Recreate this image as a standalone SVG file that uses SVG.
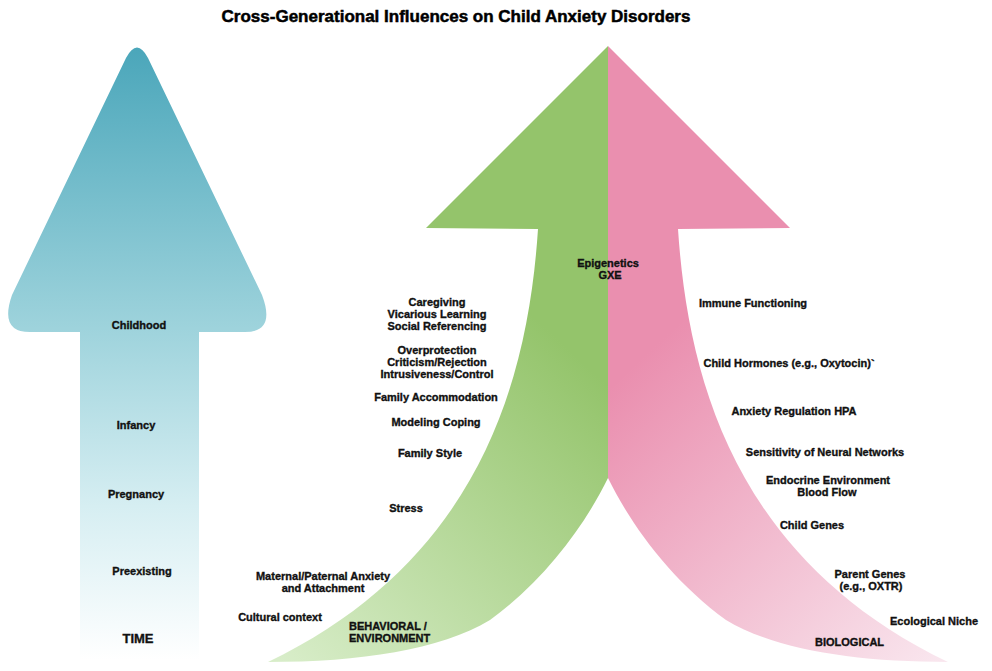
<svg xmlns="http://www.w3.org/2000/svg" width="992" height="671" viewBox="0 0 992 671">
  <defs>
    <linearGradient id="gTime" gradientUnits="userSpaceOnUse" x1="0" y1="46" x2="0" y2="660">
      <stop offset="0" stop-color="#4aa6ba"/>
      <stop offset="0.46" stop-color="#9ed3dc"/>
      <stop offset="0.75" stop-color="#d6eef2"/>
      <stop offset="1" stop-color="#ffffff"/>
    </linearGradient>
    <linearGradient id="gBehav" gradientUnits="userSpaceOnUse" x1="580" y1="360" x2="290" y2="670">
      <stop offset="0" stop-color="#94c46b"/>
      <stop offset="1" stop-color="#d8edc9"/>
    </linearGradient>
    <linearGradient id="gBio" gradientUnits="userSpaceOnUse" x1="640" y1="360" x2="930" y2="670">
      <stop offset="0" stop-color="#ea8faf"/>
      <stop offset="1" stop-color="#f9e6ee"/>
    </linearGradient>
  </defs>
  <style>
    text { font-family: "Liberation Sans", Arial, sans-serif; font-weight: bold; font-size: 11px; fill: #111; stroke: #111; stroke-width: 0.35; text-anchor: middle; }
    .title { font-size: 17px; fill: #000; stroke: #000; stroke-width: 0.5; }
    .big { font-size: 13px; }
    .start { text-anchor: start; }
  </style>

  <rect width="992" height="671" fill="#ffffff"/>

  <text class="title" x="456" y="22">Cross-Generational Influences on Child Anxiety Disorders</text>

  <!-- Time arrow -->
  <g id="time-arrow">
    <path d="M126,58 Q137,37 148,58 L262,295 Q276,332 245,332 L199,332 L199,662 L80,662 L80,332 L30,332 Q-1,332 12,295 Z" fill="url(#gTime)"/>
    <text x="139" y="329">Childhood</text>
    <text x="136" y="429">Infancy</text>
    <text x="136" y="498">Pregnancy</text>
    <text x="142" y="575">Preexisting</text>
    <text class="big" x="138" y="643">TIME</text>
  </g>

  <!-- Behavioral / environment half of the split arrow -->
  <g id="behavioral-arrow">
    <path d="M608,46 L608,478 C585,525 545,580 490,620 C440,650 360,662 268,662 C480,560 528,380 538,229 L426,228 Z" fill="url(#gBehav)"/>
    <text class="start" x="349" y="630">BEHAVIORAL /</text>
    <text class="start" x="349" y="642">ENVIRONMENT</text>
  </g>

  <!-- Biological half of the split arrow -->
  <g id="biological-arrow">
    <path d="M608,46 L608,478 C631,525 671,580 726,620 C776,650 856,662 948,662 C736,560 688,380 678,229 L790,228 Z" fill="url(#gBio)"/>
    <text class="start" x="815" y="646">BIOLOGICAL</text>
  </g>

  <g id="epigenetics">
    <text x="608" y="267">Epigenetics</text>
    <text x="610" y="279">GXE</text>
  </g>

  <!-- Behavioral / environmental influences -->
  <g id="behavioral-labels">
    <text x="437" y="306">Caregiving</text>
    <text x="437" y="318">Vicarious Learning</text>
    <text x="437" y="330">Social Referencing</text>
    <text x="437" y="354">Overprotection</text>
    <text x="437" y="366">Criticism/Rejection</text>
    <text x="437" y="378">Intrusiveness/Control</text>
    <text x="436" y="401">Family Accommodation</text>
    <text x="436" y="426">Modeling Coping</text>
    <text x="430" y="457">Family Style</text>
    <text x="406" y="512">Stress</text>
    <text x="323" y="580">Maternal/Paternal Anxiety</text>
    <text x="323" y="592">and Attachment</text>
    <text x="280" y="621">Cultural context</text>
  </g>

  <!-- Biological influences -->
  <g id="biological-labels">
    <text x="753" y="307">Immune Functioning</text>
    <text x="789" y="367">Child Hormones (e.g., Oxytocin)`</text>
    <text x="794" y="415">Anxiety Regulation HPA</text>
    <text x="825" y="456">Sensitivity of Neural Networks</text>
    <text x="828" y="484">Endocrine Environment</text>
    <text x="827" y="496">Blood Flow</text>
    <text x="812" y="529">Child Genes</text>
    <text x="870" y="578">Parent Genes</text>
    <text x="871" y="590">(e.g., OXTR)</text>
    <text x="934" y="625">Ecological Niche</text>
  </g>
</svg>
